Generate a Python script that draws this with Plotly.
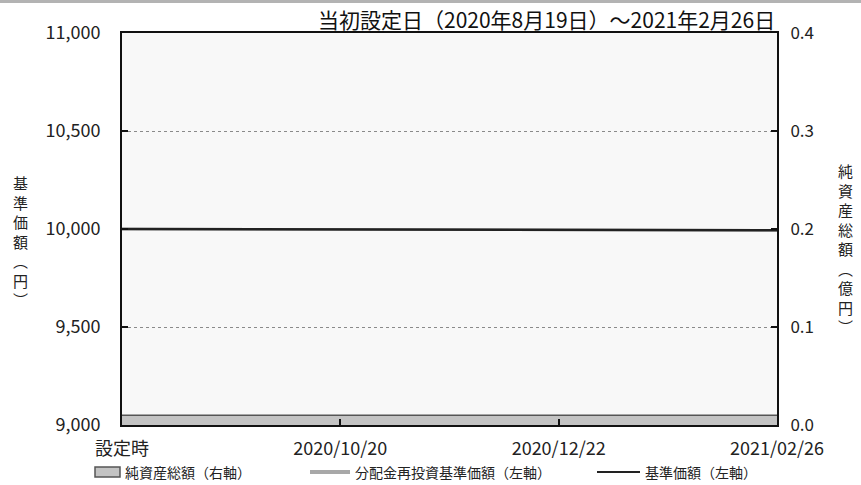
import plotly.graph_objects as go

# ---- data ----
x_labels = ["設定時", "2020/10/20", "2020/12/22", "2021/02/26"]
nav = [10000, 9998, 9996, 9994]              # 基準価額（円）
nav_reinvest = [10000, 9998, 9996, 9994]     # 分配金再投資基準価額（円）
net_assets = [0.01, 0.01, 0.01, 0.01]        # 純資産総額（億円）
y_ticks = [9000, 9500, 10000, 10500, 11000]
y2_ticks = [0.0, 0.1, 0.2, 0.3, 0.4]
title_text = "当初設定日（2020年8月19日）～2021年2月26日"
legend_names = ["純資産総額（右軸）", "分配金再投資基準価額（左軸）", "基準価額（左軸）"]

FONT = "Noto Sans CJK JP"
xs = list(range(len(x_labels)))

fig = go.Figure()
fig.add_trace(go.Scatter(
    x=xs, y=net_assets, yaxis="y2", name=legend_names[0],
    mode="lines", fill="tozeroy", fillcolor="#c3c3c3",
    line=dict(color="#555555", width=1.5), showlegend=False,
))
fig.add_trace(go.Scatter(
    x=xs, y=nav_reinvest, name=legend_names[1],
    mode="lines", line=dict(color="#a8a8a8", width=2.5), showlegend=False,
))
fig.add_trace(go.Scatter(
    x=xs, y=nav, name=legend_names[2],
    mode="lines", line=dict(color="#222222", width=2.5), showlegend=False,
))

L, R, T, B = 122, 84, 33, 60
W = 861 - L - R
H = 485 - T - B


def px(xp):
    return (xp - L) / W


def py(yp):
    return (485 - B - yp) / H


fig.update_layout(
    width=861, height=485,
    margin=dict(l=L, r=R, t=T, b=B, autoexpand=False),
    paper_bgcolor="white",
    plot_bgcolor="#f8f8f8",
    font=dict(family=FONT, color="#222222", size=15),
    showlegend=False,
    xaxis=dict(
        range=[0, 3], tickmode="array", tickvals=xs, ticktext=x_labels,
        showline=True, linecolor="#111111", linewidth=2, mirror=True,
        ticks="inside", ticklen=6, tickcolor="#111111", tickwidth=1.5,
        showgrid=False, zeroline=False, tickfont=dict(size=18),
        ticklabelstandoff=6,
    ),
    yaxis=dict(
        range=[9000, 11000], tickmode="array", tickvals=y_ticks,
        ticktext=[f"{v:,}" for v in y_ticks],
        showline=True, linecolor="#111111", linewidth=2, mirror=True,
        ticks="inside", ticklen=6, tickcolor="#111111", tickwidth=1.5,
        showgrid=True, gridcolor="#8a8a8a", griddash="dot", gridwidth=1,
        zeroline=False, tickfont=dict(size=18), ticklabelstandoff=16,
    ),
    yaxis2=dict(
        range=[0, 0.4], tickmode="array", tickvals=y2_ticks,
        ticktext=[f"{v:.1f}" for v in y2_ticks],
        overlaying="y", side="right",
        showline=True, linecolor="#111111", linewidth=2,
        ticks="inside", ticklen=6, tickcolor="#111111", tickwidth=1.5,
        showgrid=False, zeroline=False, tickfont=dict(size=17), ticklabelstandoff=8,
    ),
)

# top grey band
fig.add_shape(type="rect", xref="paper", yref="paper",
              x0=px(0), x1=px(861), y0=py(3), y1=py(-2),
              fillcolor="#b3b3b3", line_width=0, layer="above")

fig.add_annotation(text=title_text, xref="paper", yref="paper",
                   x=px(777), xanchor="right", y=py(19), yanchor="middle",
                   showarrow=False, font=dict(size=21, color="#111111", family=FONT))

fig.add_annotation(text="<br>".join(list("基準価額") + ["︵", "円", "︶"]),
                   xref="paper", yref="paper", x=px(20), xanchor="center",
                   y=py(241), yanchor="middle", showarrow=False,
                   font=dict(size=15, family=FONT), align="center")
fig.add_annotation(text="<br>".join(list("純資産総額") + ["︵", "億", "円", "︶"]),
                   xref="paper", yref="paper", x=px(845), xanchor="center",
                   y=py(248), yanchor="middle", showarrow=False,
                   font=dict(size=15, family=FONT), align="center")

# manual legend
LY = 472
fig.add_shape(type="rect", xref="paper", yref="paper",
              x0=px(95), x1=px(120), y0=py(477), y1=py(467),
              fillcolor="#c3c3c3", line=dict(color="#555555", width=1.5))
fig.add_shape(type="line", xref="paper", yref="paper",
              x0=px(310), x1=px(350), y0=py(LY), y1=py(LY),
              line=dict(color="#a8a8a8", width=4))
fig.add_shape(type="line", xref="paper", yref="paper",
              x0=px(597), x1=px(640), y0=py(LY), y1=py(LY),
              line=dict(color="#222222", width=2))
for name, xstart in zip(legend_names, [123, 353, 643]):
    fig.add_annotation(text=name, xref="paper", yref="paper",
                       x=px(xstart), xanchor="left", y=py(LY), yanchor="middle",
                       showarrow=False, font=dict(size=14, family=FONT))

fig.write_html(
    "out.html",
    config={"displayModeBar": False},
    post_script="document.body.style.margin='0';document.body.style.padding='0';",
)
